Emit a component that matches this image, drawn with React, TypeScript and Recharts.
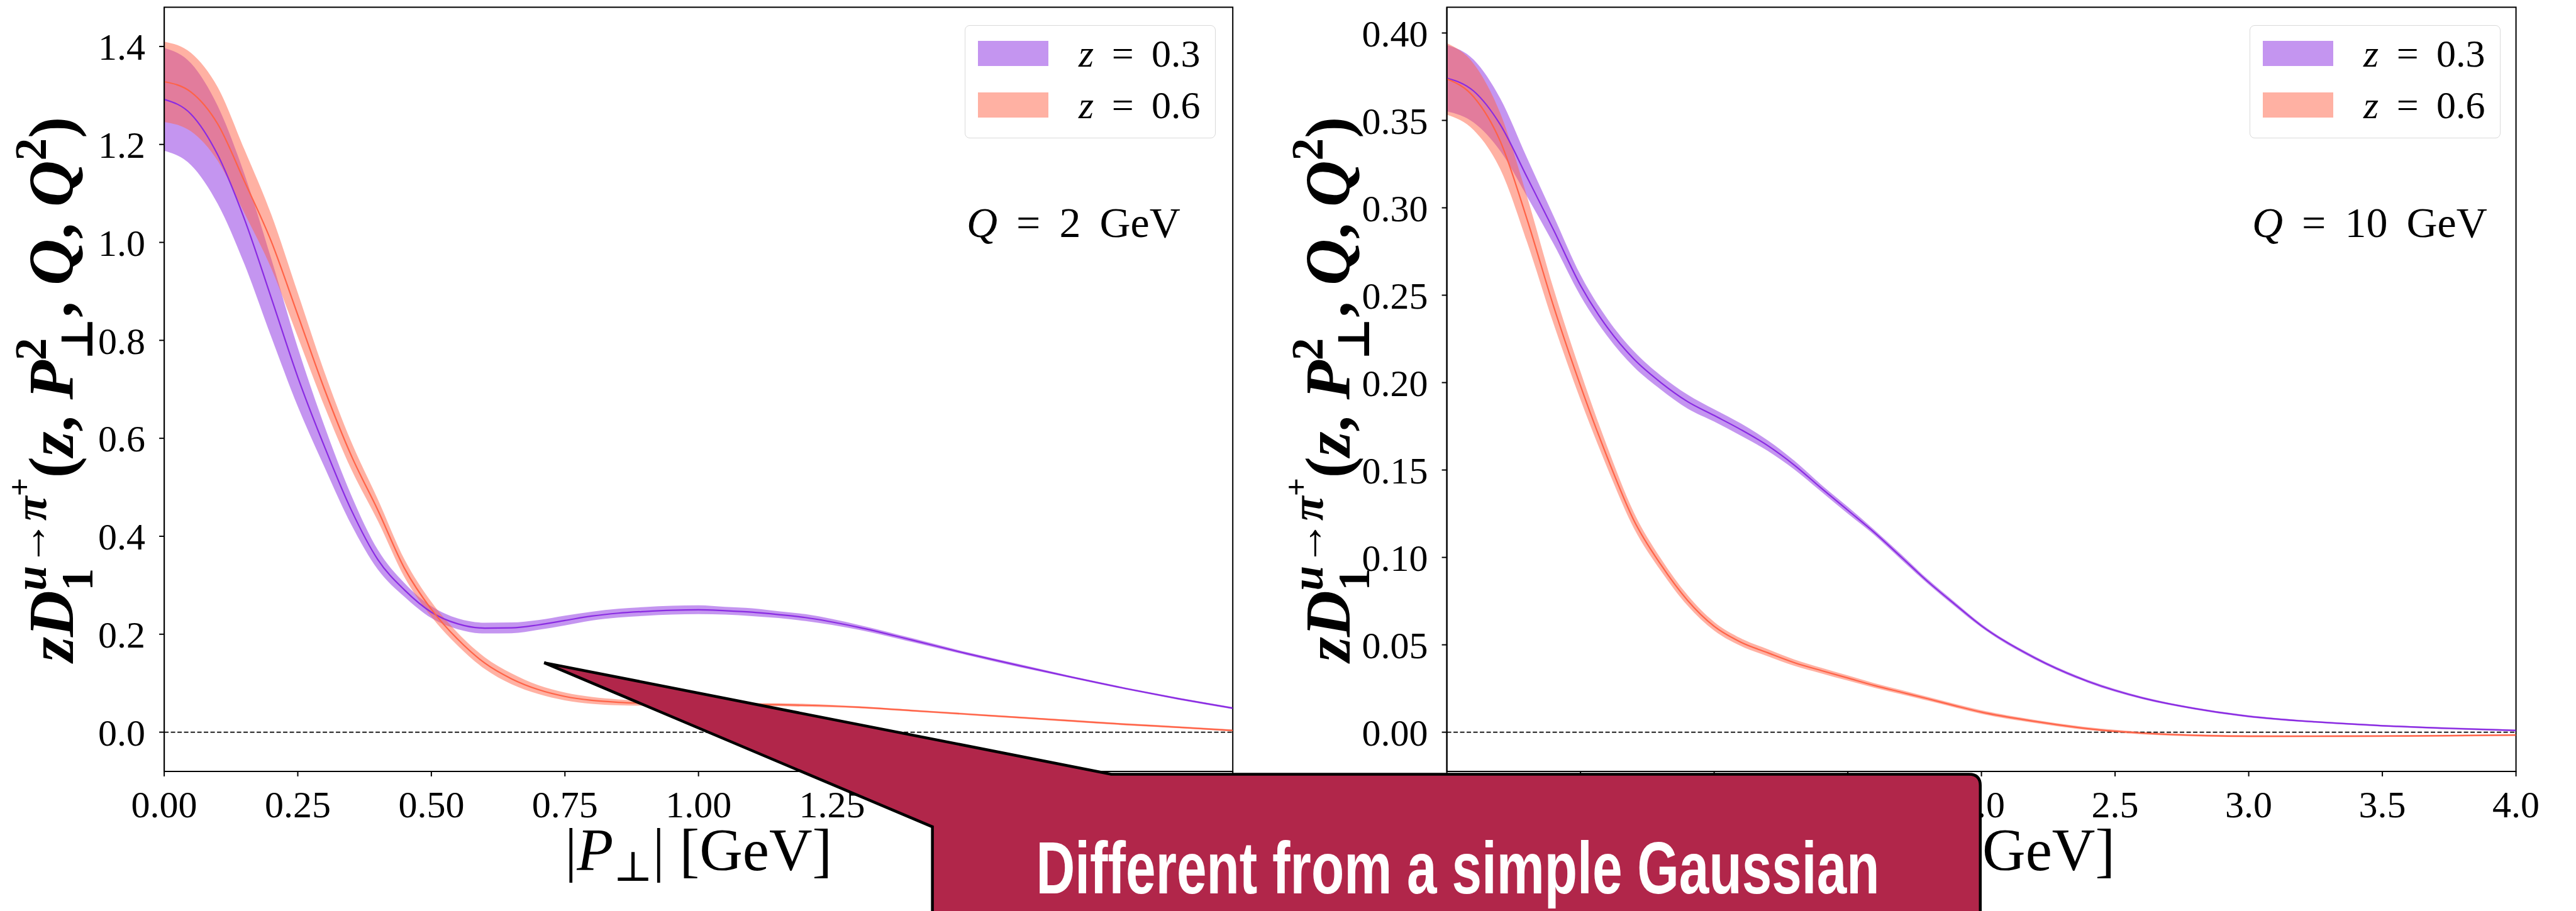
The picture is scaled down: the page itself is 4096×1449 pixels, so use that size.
import {
  Area,
  ComposedChart,
  Legend,
  Line,
  ReferenceArea,
  ReferenceLine,
  XAxis,
  YAxis,
} from "recharts";

// |P_perp| grid [GeV] and curves for the Q = 2 GeV panel
const pPerpQ2 = [
  0, 0.05, 0.1, 0.15, 0.2, 0.25, 0.3, 0.35, 0.4, 0.45, 0.5, 0.55, 0.6, 0.65,
  0.7, 0.75, 0.8, 0.85, 0.9, 0.95, 1.0, 1.05, 1.1, 1.15, 1.2, 1.3, 1.4, 1.5,
  1.6, 1.7, 1.8, 1.9, 2.0,
];
const z03Q2 = [
  1.292, 1.262, 1.179, 1.048, 0.888, 0.725, 0.583, 0.454, 0.352, 0.29, 0.245,
  0.221, 0.2125, 0.213, 0.219, 0.228, 0.237, 0.243, 0.2465, 0.249, 0.25, 0.248,
  0.245, 0.24, 0.234, 0.214, 0.188, 0.161, 0.136, 0.112, 0.089, 0.068, 0.049,
];
const z03Q2Err = [
  0.105, 0.104, 0.1, 0.092, 0.08, 0.06, 0.042, 0.03, 0.02, 0.014, 0.012, 0.011,
  0.011, 0.011, 0.01, 0.01, 0.009, 0.009, 0.009, 0.009, 0.009, 0.008, 0.008,
  0.007, 0.007, 0.005, 0.004, 0.003, 0.003, 0.002, 0.002, 0.002, 0.002,
];
const z06Q2 = [
  1.328, 1.307, 1.242, 1.125, 1.003, 0.852, 0.7, 0.565, 0.453, 0.334, 0.251,
  0.189, 0.141, 0.109, 0.087, 0.073, 0.065, 0.061, 0.059, 0.058, 0.0575, 0.057,
  0.0565, 0.056, 0.055, 0.051, 0.044, 0.037, 0.03, 0.023, 0.016, 0.01, 0.0034,
];
const z06Q2Err = [
  0.082, 0.08, 0.075, 0.065, 0.055, 0.045, 0.035, 0.028, 0.022, 0.018, 0.015,
  0.013, 0.012, 0.011, 0.009, 0.008, 0.007, 0.006, 0.005, 0.004, 0.004, 0.003,
  0.003, 0.003, 0.003, 0.002, 0.002, 0.002, 0.002, 0.002, 0.002, 0.002, 0.002,
];

// same for the Q = 10 GeV panel
const pPerpQ10 = [
  0, 0.1, 0.2, 0.3, 0.4, 0.5, 0.6, 0.7, 0.8, 0.9, 1.0, 1.1, 1.2, 1.3, 1.4, 1.5,
  1.6, 1.7, 1.8, 1.9, 2.0, 2.2, 2.4, 2.6, 2.8, 3.0, 3.25, 3.5, 3.75, 4.0,
];
const z03Q10 = [
  0.3742, 0.3668, 0.3475, 0.3175, 0.2871, 0.2556, 0.2316, 0.2134, 0.2001,
  0.1892, 0.1812, 0.1731, 0.164, 0.1528, 0.1397, 0.127, 0.1142, 0.1002, 0.0861,
  0.0733, 0.0609, 0.0425, 0.029, 0.0197, 0.0135, 0.0091, 0.0059, 0.0037,
  0.0022, 0.001,
];
const z03Q10Err = [
  0.019, 0.018, 0.015, 0.011, 0.008, 0.006, 0.005, 0.0045, 0.004, 0.004,
  0.0035, 0.0035, 0.003, 0.0025, 0.002, 0.002, 0.0015, 0.0015, 0.0013, 0.0012,
  0.001, 0.0009, 0.0008, 0.0007, 0.0006, 0.0006, 0.0005, 0.0005, 0.0005,
  0.0005,
];
const z06Q10 = [
  0.3737, 0.3635, 0.338, 0.2934, 0.2433, 0.1982, 0.1573, 0.1211, 0.096, 0.0755,
  0.0606, 0.0515, 0.0455, 0.0398, 0.0353, 0.031, 0.0267, 0.0229, 0.0191,
  0.0152, 0.0115, 0.0062, 0.002, -0.0005, -0.0018, -0.0023, -0.0023, -0.0022,
  -0.002, -0.0016,
];
const z06Q10Err = [
  0.0205, 0.019, 0.016, 0.013, 0.01, 0.008, 0.006, 0.0045, 0.0035, 0.003,
  0.0025, 0.0022, 0.002, 0.0018, 0.0016, 0.0015, 0.0013, 0.0012, 0.0011, 0.001,
  0.001, 0.0009, 0.0008, 0.0007, 0.0006, 0.0006, 0.0005, 0.0005, 0.0005,
  0.0005,
];

const xTicksQ2 = [0, 0.25, 0.5, 0.75, 1, 1.25, 1.5, 1.75, 2];
const yTicksQ2 = [0, 0.2, 0.4, 0.6, 0.8, 1.0, 1.2, 1.4];
const xTicksQ10 = [0, 0.5, 1, 1.5, 2, 2.5, 3, 3.5, 4];
const yTicksQ10 = [0, 0.05, 0.1, 0.15, 0.2, 0.25, 0.3, 0.35, 0.4];

const zValues = ["0.3", "0.6"];
const PURPLE = "#8a2be2";
const TOMATO = "#ff6347";
const seriesColors = [PURPLE, TOMATO];

const SERIF = "'Liberation Serif', 'DejaVu Serif', serif";
const SANS = "'Liberation Sans Narrow', 'Liberation Sans', 'DejaVu Sans', sans-serif";

// layout (window px)
const H = 1449;
const TOP = 11.6;
const PLOT_BOTTOM = 1226.9;
const XAXIS_H = 200;

type Row = {
  p: number;
  z03: number;
  z03Band: [number, number];
  z06: number;
  z06Band: [number, number];
};

function buildRows(
  p: number[],
  a: number[],
  aErr: number[],
  b: number[],
  bErr: number[],
): Row[] {
  return p.map((x, i) => ({
    p: x,
    z03: a[i],
    z03Band: [a[i] - aErr[i], a[i] + aErr[i]],
    z06: b[i],
    z06Band: [b[i] - bErr[i], b[i] + bErr[i]],
  }));
}

function YLabel({ viewBox }: any) {
  const x = (viewBox?.x ?? 0) + 116;
  const y = (viewBox?.y ?? TOP) + (viewBox?.height ?? PLOT_BOTTOM - TOP) / 2;
  const F = 102;
  const s = F * 0.7;
  return (
    <text
      x={x}
      y={y}
      transform={`rotate(-90 ${x} ${y})`}
      textAnchor="middle"
      fontFamily={SERIF}
      fontSize={F}
      fontWeight="bold"
      fontStyle="italic"
      fill="#000">
      zD
      <tspan fontSize={s} fontStyle="normal" dy={F * 0.3}>1</tspan>
      <tspan fontSize={s} dx={-s * 0.5} dy={-F * 0.72}>u→π</tspan>
      <tspan fontSize={F * 0.5} fontStyle="normal" dy={-F * 0.25}>+</tspan>
      <tspan fontSize={F} fontStyle="normal" dy={F * 0.67}>(</tspan>
      <tspan>z</tspan>
      <tspan fontStyle="normal">, </tspan>
      <tspan>P</tspan>
      <tspan fontSize={s} fontStyle="normal" dy={-F * 0.42}>2</tspan>
      <tspan fontSize={s} fontStyle="normal" dx={-s * 0.5} dy={F * 0.72}>⊥</tspan>
      <tspan fontStyle="normal" dy={-F * 0.3}>, </tspan>
      <tspan>Q</tspan>
      <tspan fontStyle="normal">, </tspan>
      <tspan>Q</tspan>
      <tspan fontSize={s} fontStyle="normal" dy={-F * 0.42}>2</tspan>
      <tspan fontStyle="normal" dy={F * 0.42}>)</tspan>
    </text>
  );
}

function XLabel({ viewBox }: any) {
  const cx = (viewBox?.x ?? 0) + (viewBox?.width ?? 0) / 2;
  const y = (viewBox?.y ?? PLOT_BOTTOM) + 156.8;
  const F = 95;
  return (
    <text x={cx} y={y} textAnchor="middle" fontFamily={SERIF} fontSize={F} fill="#000">
      |<tspan fontStyle="italic">P</tspan>
      <tspan fontSize={F * 0.7} dy={F * 0.18}>⊥</tspan>
      <tspan dy={-F * 0.18}>| [GeV]</tspan>
    </text>
  );
}

function BandLegend() {
  return (
    <div
      style={{
        boxSizing: "border-box",
        position: "relative",
        width: 399,
        height: 180,
        border: "1.5px solid #d9d9d9",
        borderRadius: 8,
        background: "rgba(255,255,255,0.8)",
      }}>
      {zValues.map((z, i) => (
        <div key={z} style={{ position: "absolute", left: 0, top: 24 + i * 82, width: "100%", height: 40 }}>
          <div
            style={{
              position: "absolute",
              left: 20,
              top: 0,
              width: 112,
              height: 40,
              background: seriesColors[i],
              opacity: 0.5,
            }}
          />
          <div
            style={{
              position: "absolute",
              left: 180,
              top: 0,
              height: 40,
              lineHeight: "40px",
              fontFamily: SERIF,
              fontSize: 62,
              wordSpacing: 13,
              whiteSpace: "nowrap",
              color: "#000",
            }}>
            <i>z</i> = {z}
          </div>
        </div>
      ))}
    </div>
  );
}

type PanelProps = {
  rows: Row[];
  left: number;
  width: number;
  yAxisWidth: number;
  marginRight: number;
  xDomain: [number, number];
  yDomain: [number, number];
  xTicks: number[];
  yTicks: number[];
  xDigits: number;
  yDigits: number;
  legendLeft: number;
};

function Panel(props: PanelProps) {
  const { rows, xDomain, yDomain } = props;
  const tick = { fill: "#000", fontSize: 60, fontFamily: SERIF };
  const line = { stroke: "#000", strokeWidth: 2 };
  return (
    <div style={{ position: "absolute", left: props.left, top: 0 }}>
      <ComposedChart
        width={props.width}
        height={H}
        data={rows}
        margin={{ top: TOP, right: props.marginRight, bottom: H - PLOT_BOTTOM - XAXIS_H, left: 0 }}>
        <XAxis
          type="number"
          dataKey="p"
          domain={xDomain}
          allowDataOverflow
          ticks={props.xTicks}
          interval={0}
          tickFormatter={(v: number) => v.toFixed(props.xDigits)}
          tick={tick}
          tickLine={line}
          axisLine={line}
          tickSize={8}
          tickMargin={22}
          height={XAXIS_H}
          label={<XLabel />}
        />
        <YAxis
          type="number"
          domain={yDomain}
          allowDataOverflow
          ticks={props.yTicks}
          interval={0}
          tickFormatter={(v: number) => v.toFixed(props.yDigits)}
          tick={tick}
          tickLine={line}
          axisLine={line}
          tickSize={8}
          tickMargin={22}
          width={props.yAxisWidth}
          label={<YLabel />}
        />
        <ReferenceLine y={0} stroke="#000" strokeWidth={1.8} strokeDasharray="7 3.5" />
        <Area
          dataKey="z03Band"
          type="monotone"
          fill={PURPLE}
          fillOpacity={0.5}
          stroke="none"
          isAnimationActive={false}
        />
        <Area
          dataKey="z06Band"
          type="monotone"
          fill={TOMATO}
          fillOpacity={0.5}
          stroke="none"
          isAnimationActive={false}
        />
        <Line dataKey="z03" type="monotone" stroke={PURPLE} strokeWidth={2.2} dot={false} isAnimationActive={false} />
        <Line dataKey="z06" type="monotone" stroke={TOMATO} strokeWidth={2.2} dot={false} isAnimationActive={false} />
        <ReferenceArea
          x1={xDomain[0]}
          x2={xDomain[1]}
          y1={yDomain[0]}
          y2={yDomain[1]}
          fill="none"
          stroke="#000"
          strokeWidth={2}
          ifOverflow="visible"
        />
        <Legend
          layout="vertical"
          align="center"
          verticalAlign="middle"
          content={() => <BandLegend />}
          wrapperStyle={{ left: props.legendLeft, top: 40, width: 399, height: 180 }}
        />
      </ComposedChart>
    </div>
  );
}

export default function App() {
  const rowsQ2 = buildRows(pPerpQ2, z03Q2, z03Q2Err, z06Q2, z06Q2Err);
  const rowsQ10 = buildRows(pPerpQ10, z03Q10, z03Q10Err, z06Q10, z06Q10Err);

  return (
    <div
      style={{
        position: "absolute",
        left: 0,
        top: 0,
        width: 4096,
        height: H,
        background: "#fff",
        overflow: "hidden",
      }}>
      <Panel
        rows={rowsQ2}
        left={0}
        width={2030}
        yAxisWidth={261.1}
        marginRight={69.8}
        xDomain={[0, 2]}
        yDomain={[-0.08, 1.48]}
        xTicks={xTicksQ2}
        yTicks={yTicksQ2}
        xDigits={2}
        yDigits={1}
        legendLeft={1534}
      />
      <Panel
        rows={rowsQ10}
        left={2030}
        width={2066}
        yAxisWidth={270.6}
        marginRight={95.4}
        xDomain={[0, 4]}
        yDomain={[-0.0224, 0.4147]}
        xTicks={xTicksQ10}
        yTicks={yTicksQ10}
        xDigits={1}
        yDigits={2}
        legendLeft={1547}
      />

      {/* annotations + callout drawn over both panels */}
      <svg
        width={4096}
        height={H}
        style={{ position: "absolute", left: 0, top: 0, pointerEvents: "none" }}>
        <text x={1537} y={377} fontFamily={SERIF} fontSize={68} wordSpacing={13} fill="#000">
          <tspan fontStyle="italic">Q</tspan> = 2 GeV
        </text>
        <text x={3581} y={377} fontFamily={SERIF} fontSize={68} wordSpacing={13} fill="#000">
          <tspan fontStyle="italic">Q</tspan> = 10 GeV
        </text>
        <path
          d="M 865.2 1054.1 L 1766.9 1231.4 L 3130.8 1231.4 Q 3148.8 1231.4 3148.8 1249.4 L 3148.8 1470 L 1482.6 1470 L 1482.6 1315.1 Z"
          fill="#b1264a"
          stroke="#000"
          strokeWidth={4.5}
          strokeLinejoin="miter"
        />
        <text
          x={1647.5}
          y={1421}
          fontFamily={SANS}
          fontWeight="bold"
          fontSize={116}
          fill="#fff"
          textLength={1341}
          lengthAdjust="spacingAndGlyphs">
          Different from a simple Gaussian
        </text>
      </svg>
    </div>
  );
}
